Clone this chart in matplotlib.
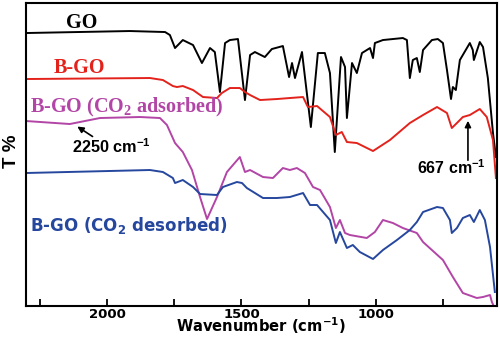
import numpy as np
import matplotlib.pyplot as plt

# FTIR spectra, wavenumber (cm-1) vs transmittance (arb. units, offset stack)
go_wn = [2301, 1915, 1784, 1766, 1747, 1718, 1680, 1647, 1617, 1599, 1580, 1561,
         1543, 1513, 1487, 1468, 1450, 1413, 1387, 1346, 1323, 1312, 1301, 1275,
         1242, 1216, 1190, 1171, 1153, 1130, 1115, 1108, 1089, 1071, 1052, 1022,
         1011, 1004, 974, 900, 885, 874, 863, 848, 837, 825, 792, 770, 751, 736,
         721, 714, 703, 688, 651, 640, 636, 614, 602, 584, 565, 554]
go_t = [273, 275, 274, 271, 258, 266, 261, 243, 258, 254, 214, 263,
        266, 267, 206, 251, 254, 249, 257, 260, 229, 243, 228, 254,
        179, 253, 253, 233, 154, 249, 239, 188, 243, 233, 253, 258,
        248, 263, 266, 268, 266, 228, 246, 248, 234, 256, 266, 267, 263, 236,
        207, 219, 216, 246, 263, 256, 246, 264, 259, 228, 173, 149]

bgo_wn = [2301, 1840, 1792, 1755, 1740, 1718, 1680, 1643, 1591, 1573, 1543, 1506,
          1487, 1468, 1431, 1368, 1320, 1271, 1253, 1219, 1171, 1149, 1127, 1108,
          1071, 1011, 948, 874, 825, 773, 736, 718, 699, 677, 651, 614, 588, 565, 554]
bgo_t = [227, 228, 226, 220, 219, 220, 216, 209, 208, 213, 218, 218,
         214, 211, 206, 207, 208, 209, 199, 200, 189, 171, 174, 164,
         163, 155, 166, 183, 191, 199, 193, 178, 183, 189, 191, 197, 189, 166, 128]

ads_wn = [2301, 2138, 2026, 1877, 1803, 1777, 1747, 1718, 1684, 1654, 1628, 1591,
          1554, 1506, 1487, 1468, 1420, 1383, 1346, 1320, 1294, 1264, 1234, 1208,
          1171, 1149, 1134, 1115, 1097, 1034, 1004, 974, 937, 900, 848, 825, 751,
          714, 677, 625, 602, 576, 569, 562]
ads_t = [185, 182, 188, 189, 188, 181, 163, 154, 136, 109, 87, 109,
         134, 149, 134, 136, 129, 128, 138, 136, 138, 133, 119, 116,
         99, 78, 86, 73, 71, 68, 74, 86, 83, 78, 73, 64, 46,
         29, 13, 8, 9, 11, 4, 0]

des_wn = [2301, 1840, 1792, 1755, 1747, 1718, 1680, 1654, 1591, 1569, 1517, 1498,
          1480, 1468, 1420, 1368, 1320, 1271, 1245, 1219, 1171, 1149, 1134, 1108,
          1086, 1060, 1011, 974, 922, 874, 848, 825, 773, 751, 725, 718, 699, 677,
          651, 636, 614, 595, 576, 558]
des_t = [133, 136, 134, 128, 123, 126, 119, 112, 111, 119, 124, 123,
         118, 116, 108, 108, 109, 113, 101, 101, 86, 63, 74, 58,
         61, 54, 47, 56, 66, 76, 84, 94, 99, 98, 86, 73, 78, 88,
         91, 84, 96, 86, 59, 14]

red = '#e3221c'
magenta = '#b245a6'
blue = '#26479e'

fig = plt.figure(figsize=(5, 3.37), dpi=100)
ax = fig.add_axes([0.052, 0.092, 0.942, 0.899])

ax.plot(go_wn, go_t, color='black', lw=1.4)
ax.plot(bgo_wn, bgo_t, color=red, lw=1.4)
ax.plot(ads_wn, ads_t, color=magenta, lw=1.4)
ax.plot(des_wn, des_t, color=blue, lw=1.4)

ax.set_xlim(2301, 550)
ax.set_ylim(0, 303)
ax.set_xticks([2000, 1500, 1000])
ax.set_xticks([2250, 1750, 1250, 750], minor=True)
ax.set_yticks([])
ax.tick_params(axis='x', which='both', direction='in', length=5, width=1.3,
               labelsize=9.5, pad=1.5)
for lab in ax.get_xticklabels():
    lab.set_fontweight('bold')
    lab.set_family('DejaVu Sans')
for sp in ax.spines.values():
    sp.set_linewidth(1.5)

# x label pinned by its bottom edge so it stays inside the figure
ax.set_xlabel('Wavenumber (cm$^\\mathregular{-1}$)', fontsize=10.6,
              fontweight='bold', family='DejaVu Sans', va='bottom')
ax.xaxis.set_label_coords(0.499, -0.099)
ax.set_ylabel('T %', fontsize=13.5, fontweight='bold',
              family='Liberation Sans')
ax.yaxis.set_label_coords(-0.013, 0.51)

serif = dict(family='Liberation Serif', fontweight='bold', fontsize=14.5)
ax.text(2093, 283, 'GO', color='black', ha='center', va='center', **serif)
ax.text(2104, 238, 'B-GO', color=red, ha='center', va='center', **serif)
ax.text(2286, 199, 'B-GO (CO$_\\mathregular{2}$ adsorbed)', color=magenta,
        ha='left', va='center', **serif)
ax.text(2286, 81, 'B-GO (CO$_\\mathregular{2}$ desorbed)', color=blue,
        ha='left', va='center', family='DejaVu Sans', fontweight='bold',
        fontsize=12)

ax.annotate('', xy=(2119, 181), xytext=(2045, 168),
            arrowprops=dict(arrowstyle='-|>', color='black', lw=1.2,
                            mutation_scale=9))
ax.text(2130, 159, '2250 cm$^\\mathregular{-1}$', ha='left', va='center',
        family='Liberation Sans', fontweight='bold', fontsize=11.7)
ax.annotate('', xy=(658, 188), xytext=(658, 143),
            arrowprops=dict(arrowstyle='-|>', color='black', lw=1.2,
                            mutation_scale=9))
ax.text(848, 138, '667 cm$^\\mathregular{-1}$', ha='left', va='center',
        family='Liberation Sans', fontweight='bold', fontsize=11.5)

fig.savefig('out.png', dpi=100)
